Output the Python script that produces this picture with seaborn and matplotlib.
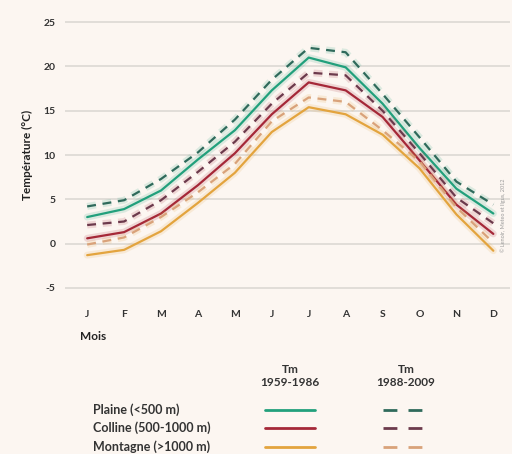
import numpy as np
import pandas as pd
import matplotlib
matplotlib.use('Agg')
import matplotlib.pyplot as plt
import matplotlib.patheffects as pe
from matplotlib.lines import Line2D
import seaborn as sns

# -----------------------------
# Data
# -----------------------------
months = ['J', 'F', 'M', 'A', 'M', 'J', 'J', 'A', 'S', 'O', 'N', 'D']

plaine_old = [3.0, 3.9, 6.0, 9.5, 12.8, 17.3, 21.0, 19.9, 15.8, 10.8, 6.2, 3.4]
plaine_new = [4.2, 4.9, 7.3, 10.3, 14.0, 18.5, 22.1, 21.6, 16.9, 12.0, 7.0, 4.4]
colline_old = [0.6, 1.3, 3.4, 6.6, 10.2, 14.6, 18.2, 17.3, 14.3, 9.4, 4.4, 1.1]
colline_new = [2.1, 2.5, 4.9, 8.1, 11.5, 15.8, 19.3, 19.0, 15.0, 10.2, 5.2, 2.3]
montagne_old = [-1.3, -0.7, 1.4, 4.6, 8.0, 12.6, 15.4, 14.6, 12.3, 8.5, 3.3, -0.8]
montagne_new = [-0.1, 0.7, 3.0, 5.8, 9.0, 13.8, 16.5, 16.0, 12.8, 9.3, 4.1, 0.1]

zones = ['Plaine (<500 m)', 'Colline (500-1000 m)', 'Montagne (>1000 m)']
periods = ['Tm\n1959-1986', 'Tm\n1988-2009']
yticks = [-5, 0, 5, 10, 15, 20, 25]

colors_old = ['#22a07c', '#a52838', '#e3a43e']
colors_new = ['#2f6a5b', '#6c3a4c', '#d9a27a']

bg = '#fcf6f1'

# long table for seaborn
series = [plaine_old, plaine_new, colline_old, colline_new, montagne_old, montagne_new]
rows = []
for i, vals in enumerate(series):
    for m, v in enumerate(vals):
        rows.append({'month': m, 'temp': v, 'zone': zones[i // 2], 'period': periods[i % 2]})
df = pd.DataFrame(rows)

# -----------------------------
# Plot
# -----------------------------
sns.set_style('white')
plt.rcParams['font.family'] = ['Lato', 'DejaVu Sans']

fig = plt.figure(figsize=(5.12, 4.54), dpi=100, facecolor=bg)
ax = fig.add_axes([0.127, 0.356, 0.869, 0.605])
ax.set_facecolor(bg)

for z, zone in enumerate(zones):
    for p, period in enumerate(periods):
        sub = df[(df['zone'] == zone) & (df['period'] == period)]
        col = colors_old[z] if p == 0 else colors_new[z]
        sns.lineplot(data=sub, x='month', y='temp', ax=ax, color=col, lw=1.6,
                     linestyle='-' if p == 0 else (0, (4, 3)), legend=False,
                     path_effects=[pe.Stroke(linewidth=5, foreground=colors_old[z], alpha=0.15),
                                   pe.Normal()])

ax.set_xlim(-0.6, 11.45)
ax.set_ylim(-5.5, 25.5)
ax.set_yticks(yticks)
ax.set_yticklabels([str(t) for t in yticks], fontsize=7.5, fontweight='bold', color='#333333')
ax.set_xticks(range(12))
ax.set_xticklabels(months, fontsize=7.5, fontweight='bold', color='#333333')
ax.tick_params(axis='both', length=0)
ax.tick_params(axis='x', pad=13)
ax.tick_params(axis='y', pad=7)
ax.grid(axis='y', color='#dcd8d4', lw=1.2)
for s in ax.spines.values():
    s.set_visible(False)
ax.set_xlabel('')
ax.set_ylabel('Température (°C)', fontsize=8.5, fontweight='bold', color='#222222', labelpad=7)

fig.text(80 / 512, 1 - 336 / 454, 'Mois', fontsize=8.5, fontweight='bold', color='#222222',
         va='center', ha='left')

fig.text(503 / 512, 1 - 215 / 454, '© Lenoir, Meteo et Ilgus, 2012', fontsize=4,
         color='#9a9a9a', rotation=90, va='center', ha='center')

# legend table
head_x = [290 / 512, 406 / 512]
for hx, per in zip(head_x, periods):
    fig.text(hx, 1 - 376 / 454, per, fontsize=8.5, fontweight='bold', color='#333333',
             ha='center', va='center', linespacing=1.15)

row_y = [410, 428, 447]
for z, zone in enumerate(zones):
    yy = 1 - row_y[z] / 454
    fig.text(93 / 512, yy, zone, fontsize=9, fontweight='bold', color='#333333', va='center')
    fig.add_artist(Line2D([265 / 512, 315 / 512], [yy, yy], color=colors_old[z], lw=2,
                          transform=fig.transFigure))
    fig.add_artist(Line2D([383 / 512, 433 / 512], [yy, yy], color=colors_new[z], lw=2,
                          linestyle=(0, (5, 4)), transform=fig.transFigure))

plt.savefig('out.png', dpi=100, facecolor=bg)
